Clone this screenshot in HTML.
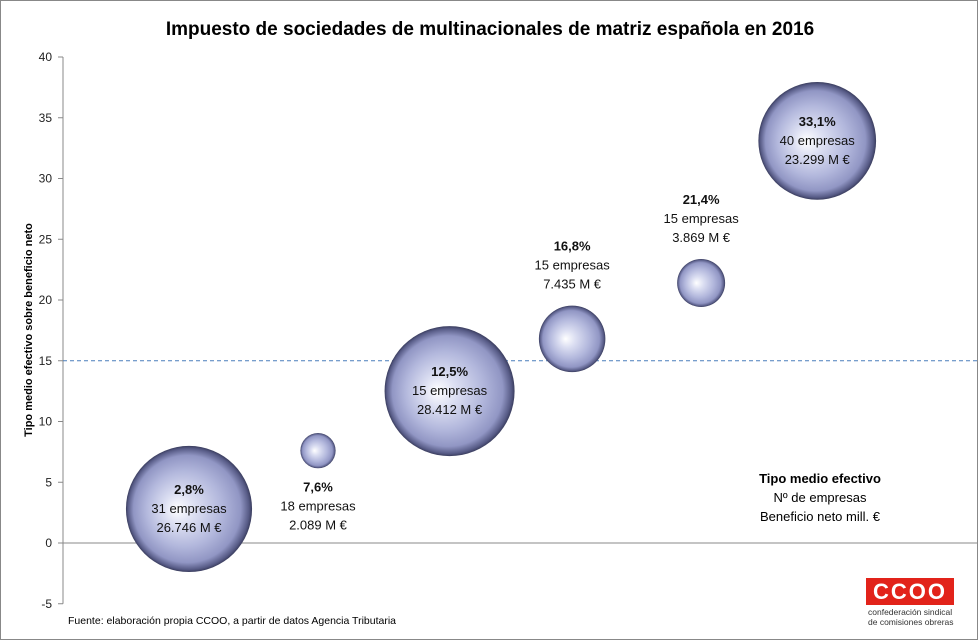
<!DOCTYPE html>
<html><head><meta charset="utf-8"><style>
body{margin:0;background:#fff;}
svg{display:block;font-family:"Liberation Sans",sans-serif;}
</style></head><body>
<svg width="978" height="640" viewBox="0 0 978 640">
<defs>
<radialGradient id="bg" cx="0.5" cy="0.5" r="0.5" fx="0.4" fy="0.5">
<stop offset="0" stop-color="#ffffff"/>
<stop offset="0.25" stop-color="#dcdff2"/>
<stop offset="0.6" stop-color="#b2b7dc"/>
<stop offset="0.85" stop-color="#9196c4"/>
<stop offset="0.96" stop-color="#575b86"/>
<stop offset="1" stop-color="#3a3d5e"/>
</radialGradient>
</defs>
<rect x="0.5" y="0.5" width="977" height="639" fill="#fff" stroke="#888"/>
<text x="490" y="35" text-anchor="middle" font-size="19" font-weight="bold" fill="#000">Impuesto de sociedades de multinacionales de matriz española en 2016</text>
<text transform="translate(32,330) rotate(-90)" text-anchor="middle" font-size="11" font-weight="bold">Tipo medio efectivo sobre beneficio neto</text>
<g id="axes"></g>
<g id="bubbles"></g>
<g id="labels"></g>
<text x="820" y="483" text-anchor="middle" font-size="13" font-weight="bold">Tipo medio efectivo</text>
<text x="820" y="502" text-anchor="middle" font-size="13">Nº de empresas</text>
<text x="820" y="521" text-anchor="middle" font-size="13">Beneficio neto mill. €</text>
<text x="68" y="624" font-size="10.5">Fuente: elaboración propia CCOO, a partir de datos Agencia Tributaria</text>
<g>
<rect x="866" y="578" width="88" height="27" fill="#e2231a"/>
<text x="910" y="599" text-anchor="middle" font-size="22" font-weight="bold" fill="#fff" letter-spacing="2">CCOO</text>
<text x="868" y="615" font-size="8.5" fill="#333">confederación sindical</text>
<text x="868" y="625" font-size="8.5" fill="#333">de comisiones obreras</text>
</g>
</svg>
<script>
const xVals=[1,2,3.02,3.97,4.97,5.87];
const rates=[2.8,7.6,12.5,16.8,21.4,33.1];
const empresas=[31,18,15,15,15,40];
const beneficio=[26746,2089,28412,7435,3869,23299];
const benefLabels=["26.746","2.089","28.412","7.435","3.869","23.299"];
const rateLabels=["2,8%","7,6%","12,5%","16,8%","21,4%","33,1%"];
const labelPos=["center","below","center","above","above","center"];
const yTicks=[-5,0,5,10,15,20,25,30,35,40];
const refLine=15;

const NS="http://www.w3.org/2000/svg";
const yS=v=>543-v*12.15;
const xS=v=>189+(v-1)*129;
const rS=v=>65*Math.sqrt(v/28412);
function mk(t,a,p){const e=document.createElementNS(NS,t);for(const k in a)e.setAttribute(k,a[k]);p.appendChild(e);return e;}
const ax=document.getElementById('axes');
const axl=mk('line',{x1:63,y1:yS(40),x2:63,y2:yS(-5),stroke:'#888'},ax);


yTicks.forEach(t=>{
  const tk=mk('line',{x1:58,x2:63,y1:yS(t),y2:yS(t),stroke:'#888'},ax);
  
  
  const tl=mk('text',{x:52,y:yS(t)+4,'text-anchor':'end','font-size':12,fill:'#222'},ax);
  tl.textContent=t;
  
  
});
const zl=mk('line',{x1:63,x2:978,y1:yS(0),y2:yS(0),stroke:'#888'},ax);


const rl=mk('line',{x1:63,x2:978,y1:yS(refLine),y2:yS(refLine),stroke:'#4a7ebb','stroke-dasharray':'4,3'},ax);


const bg=document.getElementById('bubbles'),lg=document.getElementById('labels');
rates.forEach((r,i)=>{
  const cx=xS(xVals[i]),cy=yS(r),rad=rS(beneficio[i]);
  const c=mk('circle',{cx:cx,cy:cy,r:rad,fill:'url(#bg)'},bg);
  
  
  let y0;
  if(labelPos[i]=='center')y0=cy-20;
  else if(labelPos[i]=='below')y0=cy+rad+18;
  else y0=cy-rad-60;
  const lines=[[rateLabels[i],'bold'],[empresas[i]+' empresas','normal'],[benefLabels[i]+' M €','normal']];
  lines.forEach((l,j)=>{
    const t=mk('text',{x:cx,y:y0+j*19+5,'text-anchor':'middle','font-size':13,'font-weight':l[1],fill:'#111'},lg);
    t.textContent=l[0];
    
    
  });
});
</script>
</body></html>
